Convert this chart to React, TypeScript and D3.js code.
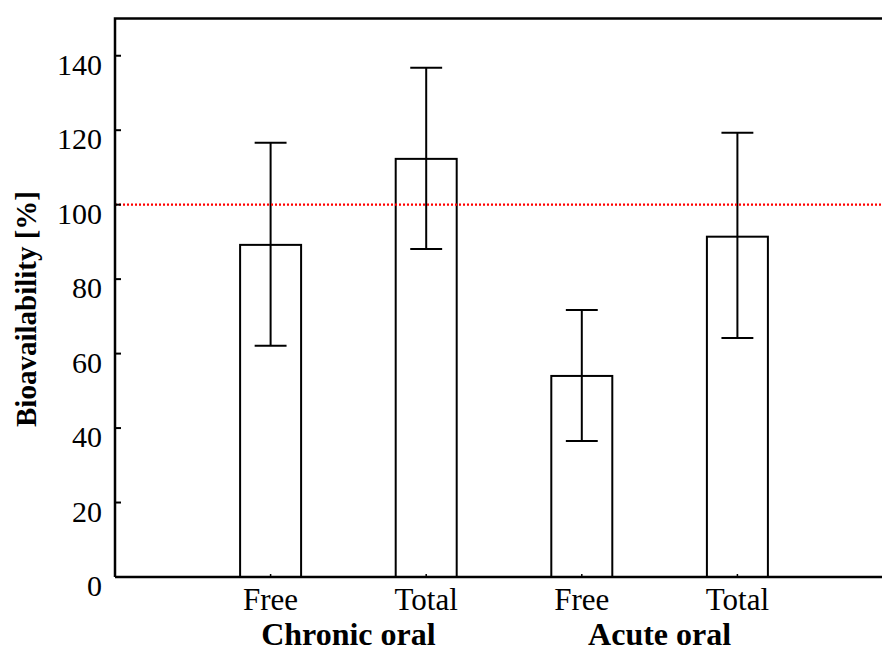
import React from "react";
import * as d3 from "d3";

const categories = ["Free", "Total", "Free", "Total"];
const groups = ["Chronic oral", "Acute oral"];
const means = [89.2, 112.3, 54.0, 91.4];
const upper = [116.6, 136.8, 71.7, 119.3];
const lower = [62.1, 88.1, 36.5, 64.2];
const yTicks = [0, 20, 40, 60, 80, 100, 120, 140];
const refValue = 100;

const W = 882;
const H = 651;

export default function App() {
  const x = d3.scaleLinear().domain([0, 5]).range([115, 893]);
  const y = d3.scaleLinear().domain([0, 150]).range([577, 18.5]);
  const bw = x(0.392) - x(0);
  const capW = x(0.205) - x(0);
  const serif = "'Liberation Serif', 'Times New Roman', serif";

  return (
    <svg
      width={W}
      height={H}
      style={{ position: "absolute", left: 0, top: 0, background: "#fff" }}
      fontFamily={serif}
    >
      {/* bars */}
      {means.map((m, i) => (
        <rect
          key={"b" + i}
          x={x(i + 1) - bw / 2}
          y={y(m)}
          width={bw}
          height={y(0) - y(m)}
          fill="#fff"
          stroke="#000"
          strokeWidth={2}
        />
      ))}
      {/* error bars */}
      {means.map((m, i) => (
        <g key={"e" + i} stroke="#000" strokeWidth={2}>
          <line x1={x(i + 1)} x2={x(i + 1)} y1={y(upper[i])} y2={y(lower[i])} />
          <line x1={x(i + 1) - capW / 2} x2={x(i + 1) + capW / 2} y1={y(upper[i])} y2={y(upper[i])} />
          <line x1={x(i + 1) - capW / 2} x2={x(i + 1) + capW / 2} y1={y(lower[i])} y2={y(lower[i])} />
        </g>
      ))}
      {/* reference line */}
      <line
        x1={x(0)}
        x2={W}
        y1={y(refValue)}
        y2={y(refValue)}
        stroke="#ff0000"
        strokeWidth={2.2}
        strokeDasharray="2,2"
      />
      {/* frame */}
      <path
        d={`M${x(0)},${y(0)} L${x(0)},${y(150)} L${W + 10},${y(150)}`}
        fill="none"
        stroke="#000"
        strokeWidth={2.5}
      />
      <line x1={x(0)} x2={W + 10} y1={y(0)} y2={y(0)} stroke="#000" strokeWidth={2.5} />
      {/* y ticks */}
      {yTicks.map((t) => (
        <g key={"t" + t}>
          <line x1={x(0)} x2={x(0) + 6} y1={y(t)} y2={y(t)} stroke="#000" strokeWidth={2} />
          <text x={102} y={y(t) + 19} textAnchor="end" fontSize={30} fill="#000">
            {t}
          </text>
        </g>
      ))}
      {/* x ticks */}
      {categories.map((c, i) => (
        <g key={"x" + i}>
          <line x1={x(i + 1)} x2={x(i + 1)} y1={y(0)} y2={y(0) - 3} stroke="#000" strokeWidth={1.5} />
          <text x={x(i + 1)} y={610} textAnchor="middle" fontSize={31} fill="#000">
            {c}
          </text>
        </g>
      ))}
      {groups.map((g, gi) => (
        <text
          key={"g" + gi}
          x={(x(gi * 2 + 1) + x(gi * 2 + 2)) / 2}
          y={645}
          textAnchor="middle"
          fontSize={32}
          fontWeight="bold"
          fill="#000"
        >
          {g}
        </text>
      ))}
      <text
        transform={`translate(36, 309) rotate(-90)`}
        textAnchor="middle"
        fontSize={29}
        fontWeight="bold"
        fill="#000"
      >
        Bioavailability [%]
      </text>
    </svg>
  );
}
